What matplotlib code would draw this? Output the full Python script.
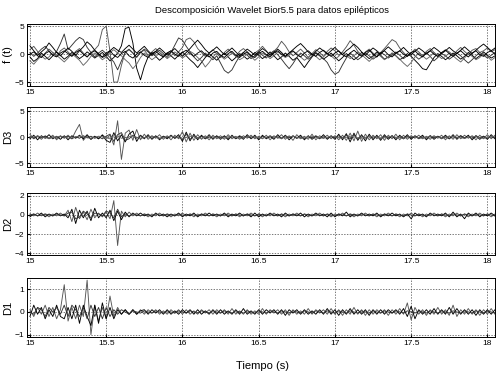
import numpy as np
import matplotlib
matplotlib.use('Agg')
import matplotlib.pyplot as plt

plt.rcParams['font.family'] = ['Liberation Sans', 'DejaVu Sans']

# time axis: 15.0 .. 18.05 s, step 0.025 s (123 samples)
t = np.linspace(15.0, 18.05, 123)

# ---- f(t) ----
f1 = [0.8, 1.4, 0.5, -0.6, 0.2, 0.9, 0.3, -0.4, 0.6, 1.1,
      0.4, -0.3, 0.5, 1.0, 0.2, -0.5, 0.3, 0.8, 1.6, 4.4,
      5.0, 0.5, -5.0, -5.0, -2.0, 0.4, 0.9, 0.2, -0.6, 0.3,
      0.7, -0.2, 0.4, 1.0, 0.3, -0.5, 0.2, 0.6, -0.3, 0.4,
      1.2, 2.6, 2.9, 2.2, 1.0, 0.3, -0.4, 0.2, 0.8, 0.1,
      -0.6, 0.3, 0.9, 0.2, -0.4, 0.5, 1.0, 0.4, -0.3, 0.2,
      0.7, 1.4, 0.6, -0.2, 0.5, 1.2, 2.3, 1.5, 0.4, -0.3,
      0.3, 0.9, 0.2, -0.6, 0.1, 0.8, 0.3, -0.4, 0.5, 1.1,
      0.6, -0.2, 0.4, 1.3, 2.4, 1.6, 0.5, -0.3, 0.4, 0.9,
      0.2, -0.5, 0.3, 1.0, 1.8, 2.6, 2.2, 1.1, 0.3, -0.4,
      0.2, 0.9, 0.4, -0.3, 0.5, 1.0, 0.3, -0.5, 0.2, 0.8,
      0.4, -0.2, 0.6, 1.2, 0.5, -0.1, 0.7, 1.0, 0.3, 0.6,
      1.1, 0.4, 0.8]
f2 = [-0.5, -1.3, -0.8, 0.2, -0.4, -1.0, -0.3, 0.4, -0.2, -0.9,
      -0.4, 0.3, -0.2, -0.8, -0.3, 0.4, -0.1, -0.7, -0.2, 0.3,
      -0.4, -1.2, -0.6, 0.2, 1.5, 4.6, 4.8, 2.0, -2.5, -4.6,
      -2.2, -0.5, 0.3, -0.4, -1.1, -0.5, 0.2, -0.3, -0.9, -0.2,
      0.4, -0.3, -1.0, -1.6, -2.4, -1.5, -0.6, 0.1, -0.5, -1.1,
      -0.4, 0.2, -0.5, -1.2, -0.6, 0.1, -0.3, -0.9, -0.4, 0.3,
      -0.2, -0.8, -0.3, 0.4, -0.3, -1.0, -0.5, 0.2, -0.4, -1.1,
      -0.6, -1.5, -2.4, -1.4, -0.5, 0.2, -0.3, -0.9, -0.4, 0.2,
      -0.5, -1.2, -0.6, 0.1, -0.4, -1.0, -0.5, 0.3, -0.2, -0.8,
      -0.3, 0.4, -0.2, -0.9, -0.5, 0.2, -0.3, -1.0, -0.6, 0.1,
      -0.4, -1.1, -1.8, -2.6, -2.8, -1.7, -0.6, 0.1, -0.4, -1.0,
      -0.5, 0.2, -0.3, -0.9, -0.4, 0.3, -0.2, -0.8, -0.3, 0.4,
      -0.2, -0.7, -0.3]
f3 = [0.3, -0.4, 0.2, 0.9, 1.4, 0.6, -0.2, 0.5, 1.9, 3.6,
      0.8, 1.6, 2.4, 3.0, 2.6, 1.2, 0.3, -0.5, 0.2, 0.7,
      0.1, -0.6, -1.4, -2.8, -1.2, 0.3, 0.8, 0.2, -0.5, 0.3,
      0.9, 0.4, -0.3, 0.2, 0.7, 0.1, -0.6, 0.3, 1.6, 2.9,
      2.5, 1.4, 0.4, -0.5, -1.2, -0.6, 0.2, -0.4, -1.0, -0.3,
      -1.6, -2.9, -3.4, -2.8, -1.5, -0.4, 0.3, -0.2, -0.8, -0.3,
      0.4, -0.2, -0.7, 0.1, 0.6, -0.1, -0.9, -1.8, -2.6, -1.7,
      -0.6, 0.2, -0.3, -0.9, -0.4, 0.3, -0.2, -0.8, -1.5, -2.8,
      -3.6, -3.2, -1.9, -0.7, 0.2, -0.4, -1.0, -0.5, 0.2, -0.3,
      -0.9, -0.4, 0.3, -0.1, -0.7, -0.2, 0.4, -0.2, -0.8, -0.3,
      0.3, -0.3, -0.9, -0.4, 0.2, -0.4, -1.2, -0.6, 0.1, -0.3,
      -0.9, -0.4, 0.2, -0.3, -1.0, -1.6, -1.0, -0.3, 0.3, -0.2,
      -0.7, -0.2, 0.3]
f4 = [-1.2, -1.8, -1.0, -0.3, -0.9, -0.5, 0.3, -0.2, -0.8, -1.4,
      -0.7, 0.1, -0.5, -1.1, -2.0, -1.3, -0.4, 0.2, -0.3, -1.0,
      -0.5, 0.3, 0.8, 0.2, -0.3, -1.0, -1.6, -2.6, -1.8, -0.6,
      0.2, -0.4, -1.0, -0.5, 0.3, -0.2, -0.8, -0.3, 0.4, -0.1,
      -0.7, -0.2, 0.5, 0.1, -0.6, -1.2, -2.3, -1.5, -0.5, 0.2,
      -0.3, -0.9, -0.4, 0.2, -0.3, -1.0, -0.6, 0.1, -0.4, -1.1,
      -0.5, 0.2, -0.2, -0.8, -0.3, 0.4, -0.1, -0.6, -0.2, 0.5,
      0.1, -0.5, -1.1, -0.6, 0.1, -0.4, -1.0, -0.5, 0.2, -0.3,
      -0.9, -0.4, 0.3, -0.2, -0.8, -0.3, 0.4, -0.1, -0.7, -1.3,
      -0.6, 0.1, -0.4, -1.0, -0.5, 0.2, -0.3, -0.9, -1.6, -2.2,
      -1.5, -0.5, 0.2, -0.3, -0.9, -0.4, 0.3, -0.2, -0.8, -0.4,
      0.2, -0.3, -0.9, -1.4, -0.7, 0.1, -0.4, -1.0, -0.6, 0.1,
      -0.4, -1.1, -0.6]
f5 = [1.5, 0.6, -0.2, 0.4, 1.0, 2.0, 1.2, 0.3, -0.3, 0.4,
      1.1, 0.5, -0.2, 0.6, 1.3, 2.2, 1.6, 0.7, 0.1, -0.6,
      -0.2, 0.6, 1.2, 0.7, 0.3, 1.0, 1.6, 0.9, 0.2, 0.8,
      1.4, 0.6, -0.1, 0.5, 1.1, 0.5, -0.2, 0.4, 1.0, 0.3,
      -0.4, 0.3, 1.0, 1.8, 2.5, 1.7, 0.8, 0.2, 0.7, 1.3,
      0.6, -0.1, 0.5, 1.1, 0.4, -0.3, 0.3, 0.9, 0.4, -0.2,
      0.4, 1.0, 0.5, -0.2, 0.3, 0.9, 0.3, -0.4, 0.2, 0.8,
      1.4, 1.9, 1.2, 0.4, -0.2, 0.5, 1.1, 0.6, 0.0, 0.6,
      1.2, 0.5, -0.1, 0.6, 1.1, 1.8, 1.2, 0.4, -0.2, 0.5,
      1.1, 0.6, 0.0, 0.7, 1.3, 0.7, 0.1, 0.6, 1.2, 0.5,
      -0.1, 0.5, 1.1, 0.6, 0.0, 0.6, 1.2, 0.7, 0.1, 0.6,
      1.2, 0.6, 0.1, 0.7, 1.3, 0.7, 0.1, 0.7, 1.3, 1.8,
      1.2, 0.6, 1.1]
f6 = [0.0, 0.4, -0.3, -0.6, 0.1, 0.5, -0.2, -0.5, 0.2, 0.6,
      0.1, -0.4, 0.3, 0.7, 0.0, -0.5, 0.2, 0.6, -0.1, -0.5,
      0.2, 0.6, -0.2, -0.6, 0.1, 0.5, -0.3, -0.7, 0.0, 0.4,
      -0.2, -0.6, 0.1, 0.5, -0.1, -0.5, 0.2, 0.6, 0.0, -0.4,
      0.3, 0.7, 0.1, -0.4, 0.2, 0.6, -0.1, -0.5, 0.2, 0.5,
      -0.2, -0.6, 0.1, 0.5, -0.2, -0.6, 0.0, 0.4, -0.3, -0.6,
      0.1, 0.5, -0.1, -0.5, 0.2, 0.6, 0.0, -0.4, 0.2, 0.6,
      -0.1, -0.5, 0.2, 0.6, 0.0, -0.4, 0.3, 0.7, 0.1, -0.4,
      0.2, 0.6, -0.1, -0.5, 0.2, 0.7, 0.1, -0.4, 0.3, 0.7,
      0.0, -0.5, 0.2, 0.6, -0.1, -0.5, 0.2, 0.6, 0.0, -0.4,
      0.3, 0.6, -0.1, -0.5, 0.2, 0.6, 0.0, -0.4, 0.3, 0.7,
      0.1, -0.4, 0.2, 0.6, 0.0, -0.5, 0.2, 0.6, -0.1, -0.4,
      0.3, 0.6, 0.0]

# ---- D3 ----
d3_1 = [0.6, -0.3, 0.2, -0.4, 0.3, -0.2, 0.4, -0.5, 0.3, -0.2,
        0.4, -0.3, 1.2, 2.5, -0.6, 0.3, -0.4, 0.2, -0.3, 0.5,
        -0.2, 0.4, -1.5, 3.2, -4.3, 0.8, 1.4, -0.6, 1.5, -0.5,
        0.6, -0.4, 0.3, -0.2, 0.5, -0.4, 0.3, -0.5, 0.4, -0.3,
        1.1, -0.9, 0.8, -0.6, 0.5, -0.4, 0.3, -0.5, 0.4, -0.3,
        0.3, -0.4, 0.5, -0.3, 0.2, -0.4, 0.3, -0.2, 0.4, -0.3,
        0.2, -0.3, 0.4, -0.5, 0.3, -0.2, 0.5, -0.4, 0.3, -0.6,
        0.5, -0.3, 0.2, -0.4, 0.6, -0.5, 0.3, -0.2, 0.4, -0.3,
        0.3, -0.5, 0.4, -0.6, 0.8, -0.7, 1.2, -0.8, 0.6, -0.5,
        0.4, -0.3, 0.5, -0.6, 0.4, -0.3, 0.6, -0.5, 0.4, -0.4,
        0.3, -0.2, 0.4, -0.3, 0.2, -0.4, 0.3, -0.2, 0.4, -0.5,
        0.3, -0.4, 0.5, -0.3, 0.4, -0.2, 0.3, -0.5, 0.4, -0.3,
        0.5, -0.3, 0.4]
d3_2 = [-0.3, 0.4, -0.5, 0.3, -0.2, 0.5, -0.3, 0.2, -0.4, 0.3,
        -0.5, 0.3, -0.2, 0.4, -0.3, 0.5, -0.4, 0.2, -0.3, 0.4,
        -0.6, -1.0, 0.9, -0.7, 0.5, -0.9, 0.6, 1.2, -0.8, 0.4,
        -0.3, 0.5, -0.4, 0.3, -0.5, 0.2, -0.3, 0.4, -0.2, 0.5,
        -0.8, 1.0, -0.7, 0.6, -0.5, 0.4, -0.3, 0.5, -0.4, 0.3,
        -0.4, 0.3, -0.5, 0.4, -0.3, 0.2, -0.4, 0.5, -0.3, 0.4,
        -0.5, 0.4, -0.3, 0.2, -0.4, 0.5, -0.3, 0.4, -0.5, 0.3,
        -0.2, 0.4, -0.5, 0.3, -0.4, 0.2, -0.3, 0.5, -0.4, 0.3,
        -0.4, 0.6, -0.5, 0.7, -0.9, 0.8, -0.6, 0.5, -0.7, 0.6,
        -0.5, 0.4, -0.6, 0.5, -0.4, 0.3, -0.5, 0.4, -0.3, 0.5,
        -0.4, 0.3, -0.2, 0.4, -0.5, 0.3, -0.4, 0.2, -0.3, 0.4,
        -0.3, 0.5, -0.4, 0.3, -0.2, 0.4, -0.5, 0.3, -0.4, 0.2,
        -0.4, 0.5, -0.3]
d3_3 = [0.1, -0.2, 0.3, -0.1, 0.2, -0.3, 0.1, -0.2, 0.2, -0.1,
        0.2, -0.3, 0.1, -0.2, 0.3, -0.1, 0.2, -0.2, 0.1, -0.3,
        0.2, 0.6, -0.8, 0.5, 0.9, -0.6, -0.3, 0.4, -0.2, 0.3,
        -0.1, 0.2, -0.2, 0.1, -0.3, 0.2, -0.1, 0.3, -0.2, 0.1,
        -0.5, 0.6, -0.4, 0.3, -0.2, 0.2, -0.3, 0.1, -0.2, 0.2,
        -0.1, 0.2, -0.3, 0.1, -0.2, 0.3, -0.1, 0.2, -0.2, 0.1,
        -0.3, 0.2, -0.1, 0.3, -0.2, 0.1, -0.2, 0.3, -0.1, 0.2,
        -0.2, 0.1, -0.3, 0.2, -0.1, 0.3, -0.2, 0.1, -0.2, 0.2,
        -0.1, 0.3, -0.2, 0.4, -0.3, 0.5, -0.4, 0.3, -0.2, 0.3,
        -0.2, 0.1, -0.3, 0.2, -0.1, 0.3, -0.2, 0.1, -0.3, 0.2,
        -0.1, 0.2, -0.3, 0.1, -0.2, 0.3, -0.1, 0.2, -0.2, 0.1,
        -0.3, 0.2, -0.1, 0.3, -0.2, 0.1, -0.2, 0.3, -0.1, 0.2,
        -0.2, 0.1, -0.2]
d3_4 = [0.0, 0.1, 0.2, 0.1, -0.1, -0.2, -0.1, 0.1, 0.2, 0.0,
        -0.2, -0.1, 0.1, 0.2, 0.1, -0.1, -0.2, 0.0, 0.2, 0.1,
        -0.1, -0.3, 0.3, 0.2, -0.2, -0.1, 0.1, 0.2, 0.0, -0.2,
        -0.1, 0.1, 0.2, 0.0, -0.2, -0.1, 0.1, 0.2, 0.1, -0.1,
        -0.2, 0.0, 0.2, 0.1, -0.1, -0.2, 0.0, 0.2, 0.1, -0.1,
        -0.2, -0.1, 0.1, 0.2, 0.0, -0.2, -0.1, 0.1, 0.2, 0.0,
        -0.1, -0.2, 0.0, 0.2, 0.1, -0.1, -0.2, 0.0, 0.1, 0.2,
        0.0, -0.2, -0.1, 0.1, 0.2, 0.0, -0.1, -0.2, 0.0, 0.2,
        0.1, -0.1, -0.2, 0.0, 0.2, 0.1, -0.1, -0.2, 0.0, 0.1,
        0.2, 0.0, -0.2, -0.1, 0.1, 0.2, 0.0, -0.1, -0.2, 0.0,
        0.2, 0.1, -0.1, -0.2, 0.0, 0.1, 0.2, 0.0, -0.2, -0.1,
        0.1, 0.2, 0.0, -0.1, -0.2, 0.0, 0.2, 0.1, -0.1, -0.2,
        0.0, 0.1, 0.2]

# ---- D2 ----
d2_1 = [0.1, -0.1, 0.2, -0.1, 0.1, -0.2, 0.1, -0.1, 0.2, -0.1,
        0.5, -0.7, 0.8, -0.4, 0.3, -0.5, 0.6, -0.3, 0.2, -0.2,
        0.3, -0.4, 1.5, -3.2, 0.4, -0.2, 0.3, -0.1, 0.2, -0.1,
        0.1, -0.2, 0.1, -0.1, 0.2, -0.1, 0.1, -0.2, 0.1, -0.1,
        0.2, -0.1, 0.1, -0.2, 0.1, -0.1, 0.2, -0.1, 0.1, -0.2,
        0.1, -0.1, 0.2, -0.1, 0.1, -0.2, 0.1, -0.1, 0.2, -0.1,
        0.1, -0.2, 0.1, -0.1, 0.2, -0.1, 0.1, -0.2, 0.1, -0.1,
        0.2, -0.1, 0.1, -0.2, 0.1, -0.1, 0.2, -0.1, 0.1, -0.2,
        0.1, -0.1, 0.2, -0.1, 0.1, -0.2, 0.1, -0.1, 0.2, -0.1,
        0.1, -0.2, 0.1, -0.1, 0.2, -0.1, 0.1, -0.2, 0.1, -0.1,
        0.2, -0.1, 0.1, -0.2, 0.1, -0.1, 0.2, -0.1, 0.1, -0.2,
        0.1, -0.1, 0.2, -0.1, 0.1, -0.2, 0.1, -0.1, 0.2, -0.1,
        0.1, -0.2, 0.1]
d2_2 = [-0.2, 0.1, -0.1, 0.2, -0.2, 0.1, -0.1, 0.2, -0.1, 0.1,
        -0.3, 0.6, -0.9, 0.5, -0.3, 0.4, -0.6, 0.7, -0.3, 0.2,
        -0.3, 0.5, -0.6, 0.4, -0.5, 0.3, -0.2, 0.2, -0.1, 0.2,
        -0.1, 0.1, -0.2, 0.2, -0.1, 0.1, -0.2, 0.1, -0.1, 0.2,
        -0.2, 0.1, -0.1, 0.2, -0.2, 0.1, -0.1, 0.2, -0.1, 0.1,
        -0.1, 0.2, -0.2, 0.1, -0.1, 0.2, -0.1, 0.1, -0.2, 0.2,
        -0.2, 0.1, -0.1, 0.2, -0.1, 0.1, -0.2, 0.2, -0.1, 0.1,
        -0.1, 0.2, -0.2, 0.1, -0.1, 0.2, -0.1, 0.1, -0.2, 0.2,
        -0.2, 0.1, -0.1, 0.3, -0.2, 0.1, -0.1, 0.2, -0.1, 0.1,
        -0.1, 0.2, -0.2, 0.1, -0.1, 0.2, -0.1, 0.1, -0.2, 0.1,
        -0.4, 0.2, -0.1, 0.1, -0.2, 0.2, -0.1, 0.1, -0.1, 0.2,
        -0.2, 0.3, -0.2, 0.1, -0.4, 0.2, -0.1, 0.2, -0.2, 0.1,
        -0.1, 0.2, -0.1]
d2_3 = [0.0, 0.1, -0.1, 0.0, 0.1, 0.0, -0.1, 0.1, 0.0, -0.1,
        0.2, 0.3, -0.4, -0.2, 0.4, 0.1, -0.3, 0.2, 0.1, -0.1,
        0.4, 0.2, -0.3, 0.6, -0.2, 0.1, -0.1, 0.1, 0.0, -0.1,
        0.1, 0.0, -0.1, 0.1, 0.0, -0.1, 0.1, 0.0, -0.1, 0.1,
        0.0, -0.1, 0.1, 0.0, -0.1, 0.1, 0.0, -0.1, 0.1, 0.0,
        -0.1, 0.1, 0.0, -0.1, 0.1, 0.0, -0.1, 0.1, 0.0, -0.1,
        0.1, 0.0, -0.1, 0.1, 0.0, -0.1, 0.1, 0.0, -0.1, 0.1,
        0.0, -0.1, 0.1, 0.0, -0.1, 0.1, 0.0, -0.1, 0.1, 0.0,
        -0.1, 0.1, 0.0, -0.1, 0.1, 0.0, -0.1, 0.1, 0.0, -0.1,
        0.1, 0.0, -0.1, 0.1, 0.0, -0.1, 0.1, 0.0, -0.1, 0.1,
        0.0, -0.1, 0.1, 0.0, -0.1, 0.1, 0.0, -0.1, 0.1, 0.0,
        -0.1, 0.1, 0.0, -0.1, 0.1, 0.0, -0.1, 0.1, 0.0, -0.1,
        0.1, 0.0, -0.1]

# ---- D1 ----
d1_1 = [0.1, -0.2, 0.2, -0.1, 0.3, -0.2, 0.2, -0.3, 0.1, 1.2,
        -0.4, 0.2, -0.3, 0.3, -0.2, 1.4, -1.0, 0.3, -0.4, 0.2,
        -0.3, 0.7, -0.2, 0.2, -0.1, 0.1, -0.1, 0.1, -0.1, 0.1,
        -0.1, 0.1, -0.05, 0.1, -0.1, 0.05, -0.1, 0.1, -0.05, 0.1,
        -0.1, 0.1, -0.1, 0.05, -0.1, 0.1, -0.05, 0.1, -0.1, 0.1,
        -0.05, 0.1, -0.1, 0.15, -0.1, 0.05, -0.1, 0.1, -0.1, 0.05,
        -0.1, 0.15, -0.1, 0.1, -0.05, 0.1, -0.1, 0.1, -0.15, 0.1,
        -0.1, 0.05, -0.1, 0.15, -0.1, 0.1, -0.05, 0.1, -0.1, 0.15,
        -0.1, 0.1, -0.15, 0.1, -0.1, 0.2, -0.1, 0.1, -0.15, 0.1,
        -0.1, 0.1, -0.05, 0.1, -0.15, 0.1, -0.1, 0.15, -0.1, 0.4,
        -0.35, 0.2, -0.1, 0.1, -0.15, 0.1, -0.1, 0.2, -0.1, 0.1,
        -0.15, 0.3, -0.2, 0.1, -0.1, 0.15, -0.1, 0.1, -0.15, 0.1,
        -0.1, 0.15, -0.1]
d1_2 = [-0.2, 0.3, -0.1, 0.2, -0.3, 0.1, -0.2, 0.3, -0.2, -0.3,
        0.2, -0.3, 0.3, -0.5, 0.3, -0.2, -0.6, 0.3, -0.5, 0.4,
        -0.3, 0.2, -0.3, 0.1, -0.1, 0.1, -0.1, 0.1, -0.1, 0.05,
        0.1, -0.1, 0.1, -0.05, 0.1, -0.1, 0.1, -0.1, 0.05, -0.1,
        0.1, -0.05, 0.1, -0.1, 0.1, -0.1, 0.05, -0.1, 0.1, -0.1,
        0.1, -0.1, 0.05, -0.1, 0.1, -0.1, 0.15, -0.1, 0.05, -0.1,
        0.1, -0.1, 0.1, -0.05, 0.1, -0.1, 0.1, -0.15, 0.1, -0.05,
        0.1, -0.1, 0.1, -0.1, 0.05, -0.1, 0.1, -0.1, 0.15, -0.1,
        0.1, -0.15, 0.1, -0.1, 0.15, -0.1, 0.1, -0.1, 0.1, -0.15,
        0.1, -0.1, 0.1, -0.1, 0.1, -0.05, 0.1, -0.1, 0.15, -0.2,
        0.25, -0.3, 0.1, -0.1, 0.1, -0.1, 0.15, -0.1, 0.1, -0.1,
        0.2, -0.1, 0.15, -0.1, 0.1, -0.1, 0.1, -0.15, 0.1, -0.1,
        0.1, -0.1, 0.1]
d1_3 = [0.0, -0.1, 0.2, 0.1, -0.2, 0.2, 0.0, 0.2, -0.1, 0.3,
        -0.2, 0.3, 0.1, -0.2, 0.2, -0.3, 0.3, -0.2, 0.2, -0.3,
        0.2, -0.2, 0.1, -0.1, 0.1, 0.0, -0.1, 0.05, 0.0, -0.05,
        0.05, 0.0, -0.05, 0.05, 0.0, -0.05, 0.05, 0.0, -0.05, 0.05,
        0.0, -0.05, 0.05, 0.0, -0.05, 0.05, 0.0, -0.05, 0.05, 0.0,
        -0.05, 0.05, 0.0, -0.05, 0.05, 0.0, -0.05, 0.05, 0.0, -0.05,
        0.05, 0.0, -0.05, 0.05, 0.0, -0.05, 0.05, 0.0, -0.05, 0.05,
        0.0, -0.05, 0.05, 0.0, -0.05, 0.05, 0.0, -0.05, 0.05, 0.0,
        -0.05, 0.05, 0.0, -0.05, 0.05, 0.0, -0.05, 0.05, 0.0, -0.05,
        0.05, 0.0, -0.05, 0.05, 0.0, -0.05, 0.05, 0.0, -0.05, 0.05,
        0.0, -0.05, 0.05, 0.0, -0.05, 0.05, 0.0, -0.05, 0.05, 0.0,
        -0.05, 0.05, 0.0, -0.05, 0.05, 0.0, -0.05, 0.05, 0.0, -0.05,
        0.05, 0.0, -0.05]

title = 'Descomposición Wavelet Bior5.5 para datos epilépticos'
xlabel = 'Tiempo (s)'
ylabels = ['f (t)', 'D3', 'D2', 'D1']
xticks = [15, 15.5, 16, 16.5, 17, 17.5, 18]
xticklabels = ['15', '15.5', '16', '16.5', '17', '17.5', '18']
yticks = [[-5, 0, 5], [-5, 0, 5], [-4, -2, 0, 2], [-1, 0, 1]]
ylims = [(-5.7, 5.4), (-5.8, 5.8), (-4.2, 2.3), (-1.1, 1.5)]

panels = [[f1, f2, f3, f4, f5, f6],
          [d3_1, d3_2, d3_3, d3_4],
          [d2_1, d2_2, d2_3],
          [d1_1, d1_2, d1_3]]
colors = ['#555555', 'k', '#333333', '#666666', 'k', 'k']

rects = [[0.054, 0.770, 0.940, 0.166],
         [0.054, 0.553, 0.940, 0.160],
         [0.054, 0.318, 0.940, 0.166],
         [0.054, 0.099, 0.940, 0.158]]

fig = plt.figure(figsize=(4.98, 3.74), dpi=100)

for k in range(4):
    ax = fig.add_axes(rects[k])
    for j, s in enumerate(panels[k]):
        ax.plot(t, s, color=colors[j % len(colors)], lw=0.65)
    ax.set_xlim(14.98, 18.05)
    ax.set_ylim(*ylims[k])
    ax.set_xticks(xticks)
    ax.set_xticklabels(xticklabels)
    ax.set_yticks(yticks[k])
    ax.tick_params(direction='in', length=2, labelsize=6, pad=2)
    ax.grid(True, color='#444444', ls=(0, (2, 2)), lw=0.5)
    for sp in ax.spines.values():
        sp.set_linewidth(0.7)
    ax.set_ylabel(ylabels[k], fontsize=8, labelpad=1)

fig.text(0.546, 0.972, title, ha='center', va='center', fontsize=6.8)
fig.text(0.528, 0.021, xlabel, ha='center', va='center', fontsize=8)

fig.savefig('out.png', dpi=100)
